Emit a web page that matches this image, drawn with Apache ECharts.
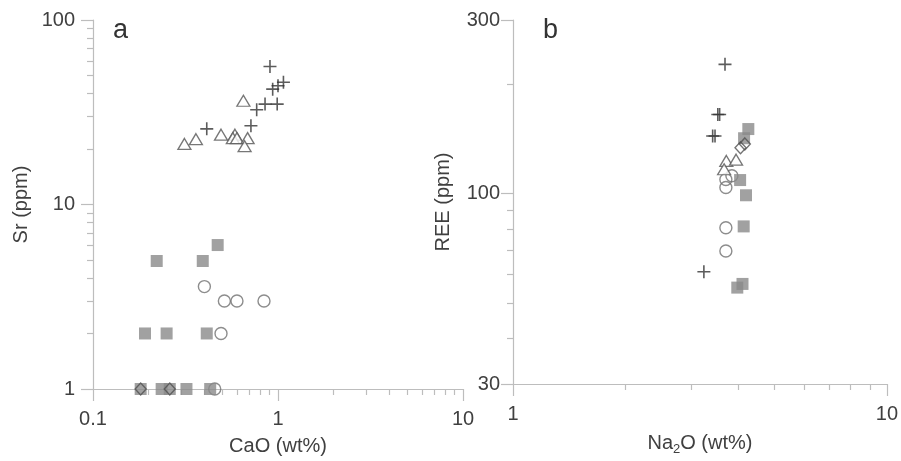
<!DOCTYPE html>
<html><head><meta charset="utf-8">
<script src="https://cdn.jsdelivr.net/npm/echarts@6/dist/echarts.min.js"></script>
<style>html,body{margin:0;padding:0;background:#fff}#c{width:901px;height:461px}</style>
</head><body><div id="c"></div>
<script>
// Panel a: CaO (wt%) vs Sr (ppm)
const aCrossX = [0.905, 1.07, 1.0, 0.936, 0.851, 0.99, 0.767, 0.714, 0.412];
const aCrossY = [56, 46, 44, 42.2, 35, 35, 32.6, 26.7, 25.7];
const aTriX = [0.65, 0.312, 0.36, 0.492, 0.585, 0.57, 0.6, 0.685, 0.66];
const aTriY = [36.5, 21.3, 22.6, 23.9, 23.9, 22.9, 22.9, 22.9, 20.7];
const aSqX = [0.472, 0.221, 0.392, 0.191, 0.25, 0.412, 0.181, 0.235, 0.26, 0.32, 0.43];
const aSqY = [6.03, 4.94, 4.94, 2, 2, 2, 1, 1, 1, 1, 1];
const aCircX = [0.4, 0.513, 0.6, 0.84, 0.492, 0.455];
const aCircY = [3.59, 3, 3, 3, 2, 1];
const aDiaX = [0.181, 0.26];
const aDiaY = [1, 1];
// Panel b: Na2O (wt%) vs REE (ppm)
const bCrossX = [3.69, 3.53, 3.57, 3.42, 3.47, 3.24];
const bCrossY = [226.6, 165, 165, 144, 144, 61];
const bTriX = [3.72, 3.95, 3.67];
const bTriY = [123, 124, 116.7];
const bCircX = [3.85, 3.71, 3.71, 3.71, 3.71];
const bCircY = [112, 109.4, 104, 80.6, 69.6];
const bSqX = [4.26, 4.15, 4.05, 4.2, 4.14, 3.98, 4.11];
const bSqY = [150.5, 142, 109, 99, 81.3, 55.2, 56.5];
const bDiaX = [4.17, 4.06];
const bDiaY = [137, 133.7];
// Tick values and labels
const aXMajor = [0.1, 1, 10];
const aXLabels = ['0.1', '1', '10'];
const aXMinor = [0.2,0.3,0.4,0.5,0.6,0.7,0.8,0.9,2,3,4,5,6,7,8,9];
const aYMajor = [1, 10, 100];
const aYLabels = ['1', '10', '100'];
const aYMinor = [2,3,4,5,6,7,8,9,20,30,40,50,60,70,80,90];
const bXMajor = [1, 10];
const bXLabels = ['1', '10'];
const bXMinor = [2,3,4,5,6,7,8,9];
const bYMajor = [30, 100, 300];
const bYLabels = ['30', '100', '300'];
const bYMinor = [40,50,60,70,80,90,200];

const zip = (xs, ys) => xs.map((x, i) => [x, ys[i]]);
const lg = v => Math.log10(v);
const TXT = '#404040', AX = '#bdbdbd', FONT = 'Liberation Sans, Arial, sans-serif';

// data axis (log scale) : only line
function dataAxis(grid, min, max, isY) {
  return {
    type: 'log', logBase: 10, gridIndex: grid, min, max, position: isY ? 'left' : 'bottom',
    axisLine: { show: true, onZero: false, lineStyle: { color: AX, width: 1.2 } },
    axisTick: { show: false }, axisLabel: { show: false }, splitLine: { show: false }, minorTick: { show: false }
  };
}
// tick axis in log10 space, sharing the same extent
function tickAxis(grid, min, max, ticks, labels, len, isY, name, nameGap, margin, rich) {
  const tv = ticks.map(lg);
  const ax = {
    type: 'value', gridIndex: grid, min: lg(min), max: lg(max), position: isY ? 'left' : 'bottom',
    axisLine: { show: false, onZero: false },
    axisTick: { show: true, length: len, customValues: tv, lineStyle: { color: AX, width: 1.2 } },
    axisLabel: { show: false }, splitLine: { show: false }
  };
  if (labels) {
    ax.axisLabel = {
      show: true, customValues: tv, margin, color: TXT, fontSize: 20, fontFamily: FONT,
      formatter: v => { let best = 0; tv.forEach((t, i) => { if (Math.abs(t - v) < Math.abs(tv[best] - v)) best = i; }); return labels[best]; }
    };
    ax.name = name; ax.nameLocation = 'middle'; ax.nameGap = nameGap; ax.nameRotate = isY ? 90 : 0;
    ax.nameTextStyle = { color: TXT, fontSize: 20, fontFamily: FONT, rich };
  }
  return ax;
}
function sc(xi, yi, data, symbol, size, style, z) {
  return { type: 'scatter', xAxisIndex: xi, yAxisIndex: yi, data, symbol, symbolSize: size,
    itemStyle: style, z: z || 2, silent: true, animation: false };
}
const crossPath = 'path://M0,5L10,5M5,0L5,10';
const stCross = { color: 'rgba(0,0,0,0)', borderColor: '#333', borderWidth: 1.6 };
const stTri = { color: '#fff', borderColor: '#555', borderWidth: 1.3 };
const stCirc = { color: 'rgba(0,0,0,0)', borderColor: '#707070', borderWidth: 1.4 };
const stSq = { color: '#8a8a8a', borderColor: '#8a8a8a', borderWidth: 0 };
const stDia = { color: 'rgba(0,0,0,0)', borderColor: '#505050', borderWidth: 1.4 };
const naRich = { n: { fontSize: 20, color: TXT, fontFamily: FONT }, s: { fontSize: 13, color: TXT, fontFamily: FONT, verticalAlign: 'bottom', padding: [12, 0, 0, 0] } };

const option = {
  backgroundColor: '#fff',
  animation: false,
  title: [
    { text: 'a', left: 108, top: 12, textStyle: { fontSize: 27, fontWeight: 'normal', color: '#333', fontFamily: FONT } },
    { text: 'b', left: 538, top: 12, textStyle: { fontSize: 27, fontWeight: 'normal', color: '#333', fontFamily: FONT } }
  ],
  grid: [
    { left: 93, top: 20, width: 370, height: 370 },
    { left: 513, top: 20, width: 375, height: 370 }
  ],
  xAxis: [
    dataAxis(0, 0.1, 10, false),
    tickAxis(0, 0.1, 10, aXMajor, aXLabels, 12, false, 'CaO (wt%)', 47, 20),
    tickAxis(0, 0.1, 10, aXMinor, null, 6, false),
    dataAxis(1, 1, 10, false),
    tickAxis(1, 1, 10, bXMajor, bXLabels, 12, false, '{n|Na}{s|2}{n|O (wt%)}', 47, 20, naRich),
    tickAxis(1, 1, 10, bXMinor, null, 6, false)
  ],
  yAxis: [
    dataAxis(0, 1, 100, true),
    tickAxis(0, 1, 100, aYMajor, aYLabels, 12, true, 'Sr (ppm)', 62, 18),
    tickAxis(0, 1, 100, aYMinor, null, 6, true),
    dataAxis(1, 30, 300, true),
    tickAxis(1, 30, 300, bYMajor, bYLabels, 12, true, 'REE (ppm)', 60, 13),
    tickAxis(1, 30, 300, bYMinor, null, 6, true)
  ],
  series: [
    sc(0, 0, zip(aCircX, aCircY), 'circle', 12, stCirc, 2),
    sc(0, 0, zip(aTriX, aTriY), 'triangle', [13, 11], stTri, 3),
    sc(0, 0, zip(aSqX, aSqY), 'rect', 12, stSq, 4),
    sc(0, 0, zip(aDiaX, aDiaY), 'diamond', [11, 12], stDia, 5),
    sc(0, 0, zip(aCrossX, aCrossY), crossPath, 13, stCross, 6),
    sc(3, 3, zip(bCircX, bCircY), 'circle', 12, stCirc, 2),
    sc(3, 3, zip(bTriX, bTriY), 'triangle', [13, 11], stTri, 3),
    sc(3, 3, zip(bSqX, bSqY), 'rect', 12, stSq, 4),
    sc(3, 3, zip(bDiaX, bDiaY), 'diamond', [11, 12], stDia, 5),
    sc(3, 3, zip(bCrossX, bCrossY), crossPath, 13, stCross, 6)
  ]
};
const chart = echarts.init(document.getElementById('c'), null, { renderer: 'canvas' });
chart.setOption(option);
</script>
</body></html>
